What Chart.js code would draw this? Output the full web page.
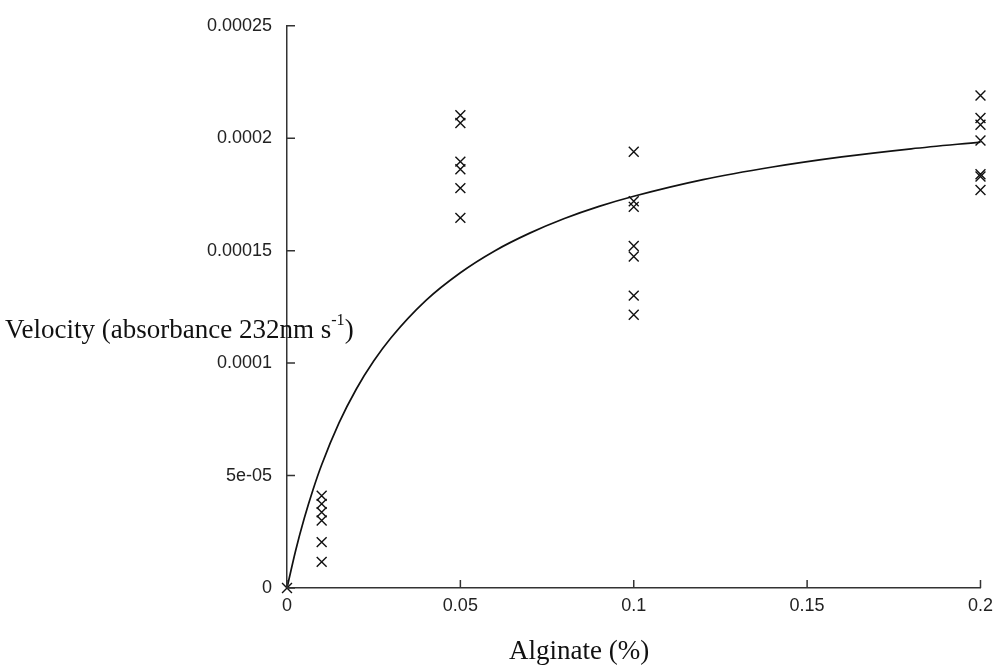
<!DOCTYPE html>
<html><head><meta charset="utf-8">
<script src="https://cdn.jsdelivr.net/npm/chart.js@4.4.1/dist/chart.umd.min.js"></script>
<style>
html,body{margin:0;padding:0;background:#fff;}
#wrap{position:relative;width:1000px;height:668px;overflow:hidden;}
canvas{position:absolute;left:0;top:0;}
.ttl{position:absolute;font-family:"Liberation Serif","Times New Roman",serif;font-size:27px;color:#111;white-space:nowrap;line-height:27px;}
.ttl sup{font-size:60%;line-height:0;position:relative;top:-0.2em;vertical-align:super;}
</style></head><body>
<div id="wrap">
<canvas id="c" width="1000" height="668"></canvas>
<div class="ttl" id="yt" style="left:5px;top:316px;">Velocity (absorbance 232nm s<sup>-1</sup>)</div>
<div class="ttl" id="xt" style="left:509px;top:637px;">Alginate (%)</div>
</div>
<script>
// concentrations (Alginate %)
const xCategories = [0, 0.01, 0.05, 0.1, 0.2];
// observed velocities at each concentration
const obsAt0   = [0];
const obsAt001 = [4.10e-5, 3.74e-5, 3.37e-5, 3.00e-5, 2.04e-5, 1.16e-5];
const obsAt005 = [2.102e-4, 2.068e-4, 1.896e-4, 1.862e-4, 1.778e-4, 1.646e-4];
const obsAt01  = [1.94e-4, 1.72e-4, 1.695e-4, 1.521e-4, 1.474e-4, 1.30e-4, 1.215e-4];
const obsAt02  = [2.19e-4, 2.09e-4, 2.06e-4, 1.99e-4, 1.84e-4, 1.83e-4, 1.77e-4];
// fitted curve
const fitX = [0, 0.0025, 0.005, 0.0075, 0.01, 0.015, 0.02, 0.025, 0.03, 0.04, 0.05, 0.06, 0.07, 0.08, 0.09, 0.1, 0.12, 0.14, 0.16, 0.18, 0.2];
const fitY = [0, 1.67e-5, 3.11e-5, 4.37e-5, 5.48e-5, 7.34e-5, 8.85e-5, 1.009e-4, 1.113e-4, 1.278e-4, 1.402e-4, 1.50e-4, 1.578e-4, 1.643e-4, 1.697e-4, 1.742e-4, 1.816e-4, 1.872e-4, 1.917e-4, 1.953e-4, 1.983e-4];
// ticks
const xTickValues = [0, 0.05, 0.1, 0.15, 0.2];
const xTickLabels = ['0', '0.05', '0.1', '0.15', '0.2'];
const yTickValues = [0, 0.00005, 0.0001, 0.00015, 0.0002, 0.00025];
const yTickLabels = ['0', '5e-05', '0.0001', '0.00015', '0.0002', '0.00025'];

const obsGroups = [obsAt0, obsAt001, obsAt005, obsAt01, obsAt02];
const scatterData = [];
obsGroups.forEach((arr, i) => arr.forEach(v => scatterData.push({x: xCategories[i], y: v})));
const lineData = fitX.map((x, i) => ({x: x, y: fitY[i]}));

const axisColor = '#333';
const innerTicks = {
  id: 'innerTicks',
  afterDatasetsDraw(chart) {
    const ctx = chart.ctx, a = chart.chartArea;
    const xs = chart.scales.x, ys = chart.scales.y;
    ctx.save();
    ctx.strokeStyle = axisColor; ctx.lineWidth = 1.5;
    ctx.beginPath();
    xTickValues.forEach(v => { const p = xs.getPixelForValue(v); ctx.moveTo(p, a.bottom); ctx.lineTo(p, a.bottom - 8); });
    yTickValues.forEach(v => { const p = ys.getPixelForValue(v); ctx.moveTo(a.left, p); ctx.lineTo(a.left + 8, p); });
    ctx.stroke();
    ctx.restore();
  }
};

const tickFont = {family: '"Liberation Sans", Arial, sans-serif', size: 18};
new Chart(document.getElementById('c'), {
  data: {
    datasets: [
      {type: 'line', data: lineData, borderColor: '#111', borderWidth: 1.7, pointRadius: 0, fill: false, cubicInterpolationMode: 'monotone', clip: false, order: 2},
      {type: 'scatter', data: scatterData, pointStyle: 'crossRot', pointRadius: 7, borderColor: '#111', backgroundColor: '#111', pointBorderWidth: 1.4, borderWidth: 1.4, clip: false, order: 1}
    ]
  },
  options: {
    responsive: false, animation: false, devicePixelRatio: 1,
    layout: {autoPadding: false, padding: {left: 0, top: 22, right: 14, bottom: 0}},
    plugins: {legend: {display: false}, tooltip: {enabled: false}},
    scales: {
      x: {
        type: 'linear', min: 0, max: 0.2,
        afterBuildTicks: s => { s.ticks = xTickValues.map(v => ({value: v})); },
        afterFit: s => { s.height = 80; },
        ticks: {callback: (v, i) => xTickLabels[i], font: tickFont, color: '#222', padding: 7, maxRotation: 0, autoSkip: false},
        grid: {display: true, drawOnChartArea: false, drawTicks: false},
        border: {display: true, color: axisColor, width: 1.5}
      },
      y: {
        type: 'linear', min: 0, max: 0.00025,
        afterBuildTicks: s => { s.ticks = yTickValues.map(v => ({value: v})); },
        afterFit: s => { s.width = 287; },
        ticks: {callback: (v, i) => yTickLabels[i], font: tickFont, color: '#222', padding: 15, autoSkip: false},
        grid: {display: true, drawOnChartArea: false, drawTicks: false},
        border: {display: true, color: axisColor, width: 1.5}
      }
    }
  },
  plugins: [innerTicks]
});
</script>
</body></html>
